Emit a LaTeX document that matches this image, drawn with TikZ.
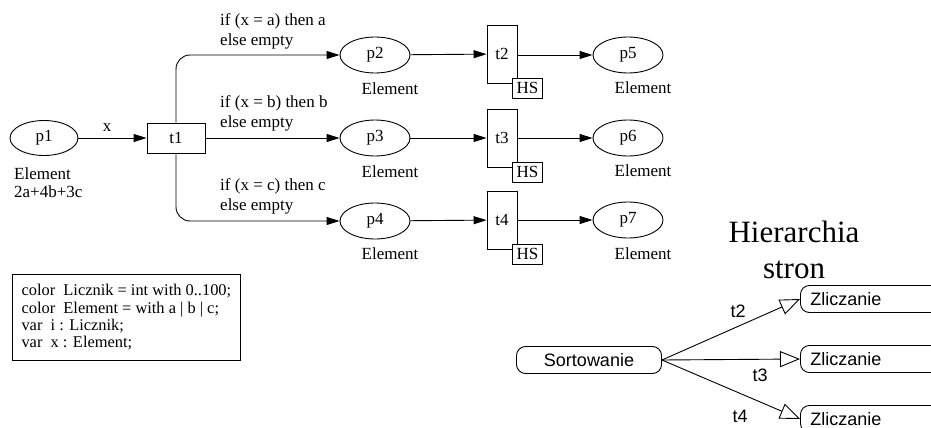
\documentclass[tikz,border=0pt]{standalone}
\usepackage{fontspec}
\setmainfont{Liberation Serif}
\setsansfont{Liberation Sans}
\usetikzlibrary{arrows.meta,shapes.geometric}
\begin{document}
\begin{tikzpicture}[x=1pt,y=-1pt,
  font=\fontsize{17}{20}\selectfont,
  place/.style={draw, ellipse, minimum width=70pt, minimum height=36pt, inner sep=0pt, line width=0.9pt},
  trans/.style={draw, rectangle, inner sep=0pt, line width=0.9pt},
  hs/.style={draw, fill=white, minimum width=30pt, minimum height=20pt, inner sep=0pt, line width=0.7pt},
  arc/.style={-{Triangle[length=13pt,width=8pt]}, line width=0.9pt},
  lbl/.style={inner sep=0pt},
  page/.style={draw, rounded corners=9pt, line width=0.9pt, font=\sffamily\fontsize{18}{20}\selectfont, minimum height=27pt, inner sep=0pt},
  harc/.style={-{Triangle[open,length=20pt,width=16pt]}, line width=0.9pt},
  slbl/.style={inner sep=0pt, font=\sffamily\fontsize{18}{20}\selectfont},
]
\useasboundingbox (0,0) rectangle (931,428);

% places and transitions
\node[place, minimum width=68pt, minimum height=35pt] (p1) at (44,138) {p1};
\node[trans, minimum width=58pt, minimum height=30pt] (t1) at (176,138) {t1};
\node[place] (p2) at (375,55) {p2};
\node[place] (p3) at (375,138) {p3};
\node[place] (p4) at (375,221) {p4};
\node[trans, minimum width=30pt, minimum height=58pt] (t2) at (502,54) {t2};
\node[trans, minimum width=30pt, minimum height=58pt] (t3) at (502,138) {t3};
\node[trans, minimum width=30pt, minimum height=58pt] (t4) at (502,220) {t4};
\node[place] (p5) at (628,55) {p5};
\node[place] (p6) at (628,138) {p6};
\node[place] (p7) at (628,220) {p7};
\node[hs] (h2) at ([xshift=10pt,yshift=-5pt]t2.south east) {HS};
\node[hs] (h3) at ([xshift=10pt,yshift=-5pt]t3.south east) {HS};
\node[hs] (h4) at ([xshift=10pt,yshift=-5pt]t4.south east) {HS};

% labels
\node[lbl, anchor=west, align=left] (e1) at (14,183) {Element\\[-2pt]2a+4b+3c};
\node[lbl] (e2) at (390,89) {Element};
\node[lbl] (e3) at (390,172) {Element};
\node[lbl] (e4) at (390,254) {Element};
\node[lbl] (e5) at (643,88) {Element};
\node[lbl] (e6) at (643,171) {Element};
\node[lbl] (e7) at (643,254) {Element};
\node[lbl, anchor=west, align=left] (ca) at (220,31) {if (x = a) then a\\else empty};
\node[lbl, anchor=west, align=left] (cb) at (220,113.5) {if (x = b) then b\\else empty};
\node[lbl, anchor=west, align=left] (cc) at (220,196.5) {if (x = c) then c\\else empty};
\node[lbl] (lx) at (107,128) {x};

% arcs
\draw[arc] (p1) -- (t1);
\draw[arc, rounded corners=14pt] (t1.north) |- (p2.west);
\draw[arc] (t1) -- (p3);
\draw[arc, rounded corners=14pt] (t1.south) |- (p4.west);
\draw[arc] (p2) -- (t2);
\draw[arc] (p3) -- (t3);
\draw[arc] (p4) -- (t4);
\draw[arc] (t2.east |- p5) -- (p5);
\draw[arc] (t3) -- (p6);
\draw[arc] (t4) -- (p7);

% declarations
\node[draw, line width=0.7pt, anchor=north west, minimum width=228pt, minimum height=86pt,
      inner xsep=9pt, align=left,
      font=\fontsize{16.4}{17.3}\selectfont] (decl) at (12,274)
  {color~ Licznik = int with 0..100;\\
   color~ Element = with a | b | c;\\
   var~ i : Licznik;\\
   var~ x : Element;};

% page hierarchy
\node[lbl, align=center, font=\fontsize{31}{36}\selectfont] (title) at (794,250) {Hierarchia\\stron};
\node[page, minimum width=145pt] (sort) at (589,360) {Sortowanie};
\node[page, anchor=west, minimum width=170pt, text width=150pt, inner xsep=9pt, align=left] (z2) at (800,299) {Zliczanie};
\node[page, anchor=west, minimum width=170pt, text width=150pt, inner xsep=9pt, align=left] (z3) at (800,359) {Zliczanie};
\node[page, anchor=west, minimum width=170pt, text width=150pt, inner xsep=9pt, align=left] (z4) at (800,419) {Zliczanie};
\draw[harc] (sort.east) -- (z2.west);
\draw[harc] (sort.east) -- (z3.west);
\draw[harc] (sort.east) -- (z4.west);
\node[slbl] (l2) at (738,311) {t2};
\node[slbl] (l3) at (760,375) {t3};
\node[slbl] (l4) at (740,416) {t4};
\end{tikzpicture}
\end{document}
